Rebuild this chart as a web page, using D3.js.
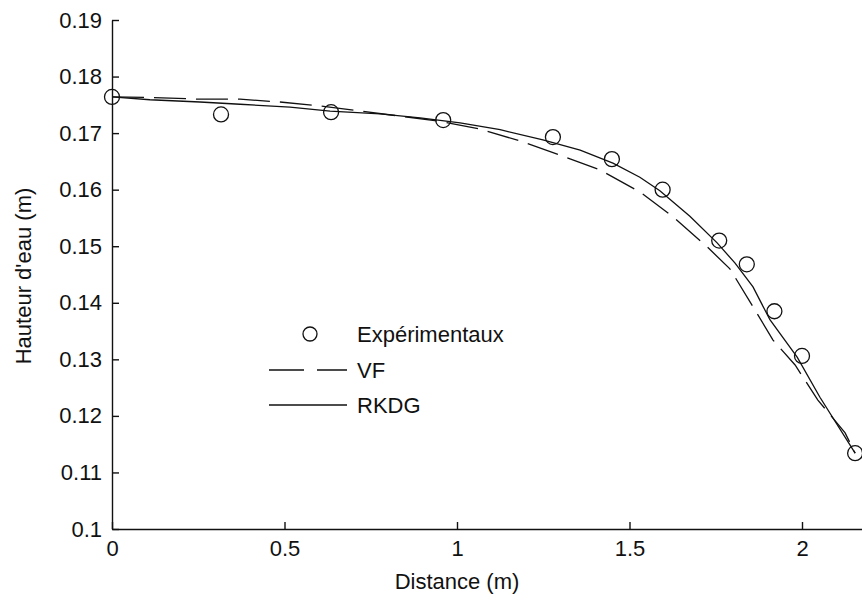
<!DOCTYPE html>
<html>
<head>
<meta charset="utf-8">
<script src="https://cdn.jsdelivr.net/npm/d3@7"></script>
<style>
  html, body { margin: 0; padding: 0; background: #fff; }
  svg { display: block; }
  text { font-family: "Liberation Sans", Arial, sans-serif; fill: #111; }
</style>
</head>
<body>
<svg id="chart" width="862" height="601"></svg>
<script>
// ---- data ----
const expX = [0, 0.316, 0.635, 0.96, 1.278, 1.449, 1.596, 1.76, 1.84, 1.92, 2.0, 2.154];
const expY = [0.1764, 0.1733, 0.1737, 0.1723, 0.1693, 0.1654, 0.1600, 0.1510, 0.1468, 0.1385, 0.1306, 0.1134];

const vfX = [0, 0.11, 0.255, 0.371, 0.487, 0.603, 0.719, 0.835, 0.951, 1.067, 1.183, 1.299, 1.414, 1.53, 1.626, 1.725, 1.791, 1.858, 1.916, 1.98, 2.046, 2.125, 2.154];
const vfY = [0.1764, 0.1763, 0.1760, 0.1760, 0.1755, 0.1748, 0.1739, 0.1730, 0.1721, 0.1707, 0.1686, 0.1661, 0.1635, 0.1596, 0.1552, 0.1499, 0.1460, 0.1393, 0.1334, 0.1290, 0.1228, 0.1170, 0.1134];

const rkX = [0, 0.11, 0.255, 0.371, 0.516, 0.632, 0.777, 0.893, 1.009, 1.125, 1.249, 1.357, 1.452, 1.53, 1.588, 1.675, 1.754, 1.806, 1.858, 1.907, 1.986, 2.052, 2.154];
const rkY = [0.1764, 0.1759, 0.1755, 0.1751, 0.1746, 0.1739, 0.1734, 0.1727, 0.1718, 0.1706, 0.1688, 0.1670, 0.1647, 0.1622, 0.1598, 0.1553, 0.1506, 0.1470, 0.1428, 0.1370, 0.1304, 0.1233, 0.1134];

const xTicks = [0, 0.5, 1, 1.5, 2];
const yTicks = [0.1, 0.11, 0.12, 0.13, 0.14, 0.15, 0.16, 0.17, 0.18, 0.19];
const legendLabels = ["Expérimentaux", "VF", "RKDG"];
const xTitle = "Distance (m)";
const yTitle = "Hauteur d'eau (m)";

// ---- drawing ----
const svg = d3.select("#chart");
const FS = 22;
const x = d3.scaleLinear().domain([0, 2.2]).range([112, 112 + 2.2 * 345]);
const y = d3.scaleLinear().domain([0.1, 0.19]).range([529, 20]);

const fmt = d => String(+d.toFixed(2));

const gx = svg.append("g").attr("transform", `translate(0,${y(0.1)})`)
  .call(d3.axisBottom(x).tickValues(xTicks).tickFormat(fmt)
    .tickSizeInner(-7).tickSizeOuter(0).tickPadding(11));
const gy = svg.append("g").attr("transform", `translate(${x(0)},0)`)
  .call(d3.axisLeft(y).tickValues(yTicks).tickFormat(fmt)
    .tickSizeInner(-7).tickSizeOuter(0).tickPadding(10));

[gx, gy].forEach(g => {
  g.select(".domain").attr("stroke", "#111").attr("stroke-width", 1.4);
  g.selectAll(".tick line").attr("stroke", "#111").attr("stroke-width", 1.4);
  g.selectAll(".tick text").attr("font-size", FS).attr("font-family", "Liberation Sans, Arial, sans-serif").attr("fill", "#111");
});

// titles
svg.append("text").attr("x", 457).attr("y", 589).attr("text-anchor", "middle")
  .attr("font-size", FS).text(xTitle);
svg.append("text").attr("transform", `translate(31,276) rotate(-90)`).attr("text-anchor", "middle")
  .attr("font-size", FS).text(yTitle);

const line = d3.line().x(d => x(d[0])).y(d => y(d[1]));

svg.append("path").datum(vfX.map((v, i) => [v, vfY[i]]))
  .attr("d", line).attr("fill", "none").attr("stroke", "#111")
  .attr("stroke-width", 1.3).attr("stroke-dasharray", "32,10");
svg.append("path").datum(rkX.map((v, i) => [v, rkY[i]]))
  .attr("d", line).attr("fill", "none").attr("stroke", "#111")
  .attr("stroke-width", 1.3);

svg.append("g").selectAll("circle").data(expX.map((v, i) => [v, expY[i]]))
  .join("circle").attr("cx", d => x(d[0])).attr("cy", d => y(d[1])).attr("r", 7.5)
  .attr("fill", "none").attr("stroke", "#111").attr("stroke-width", 1.3);

// legend
const lg = svg.append("g");
const rowY = [334, 370, 405];
lg.append("circle").attr("cx", 310).attr("cy", rowY[0]).attr("r", 7)
  .attr("fill", "none").attr("stroke", "#111").attr("stroke-width", 1.3);
lg.append("line").attr("x1", 269).attr("x2", 347).attr("y1", rowY[1]).attr("y2", rowY[1])
  .attr("stroke", "#111").attr("stroke-width", 1.3).attr("stroke-dasharray", "35,13");
lg.append("line").attr("x1", 269).attr("x2", 347).attr("y1", rowY[2]).attr("y2", rowY[2])
  .attr("stroke", "#111").attr("stroke-width", 1.3);
legendLabels.forEach((t, i) => {
  lg.append("text").attr("x", 357).attr("y", rowY[i]).attr("dy", "0.36em")
    .attr("font-size", FS).text(t);
});
</script>
</body>
</html>
